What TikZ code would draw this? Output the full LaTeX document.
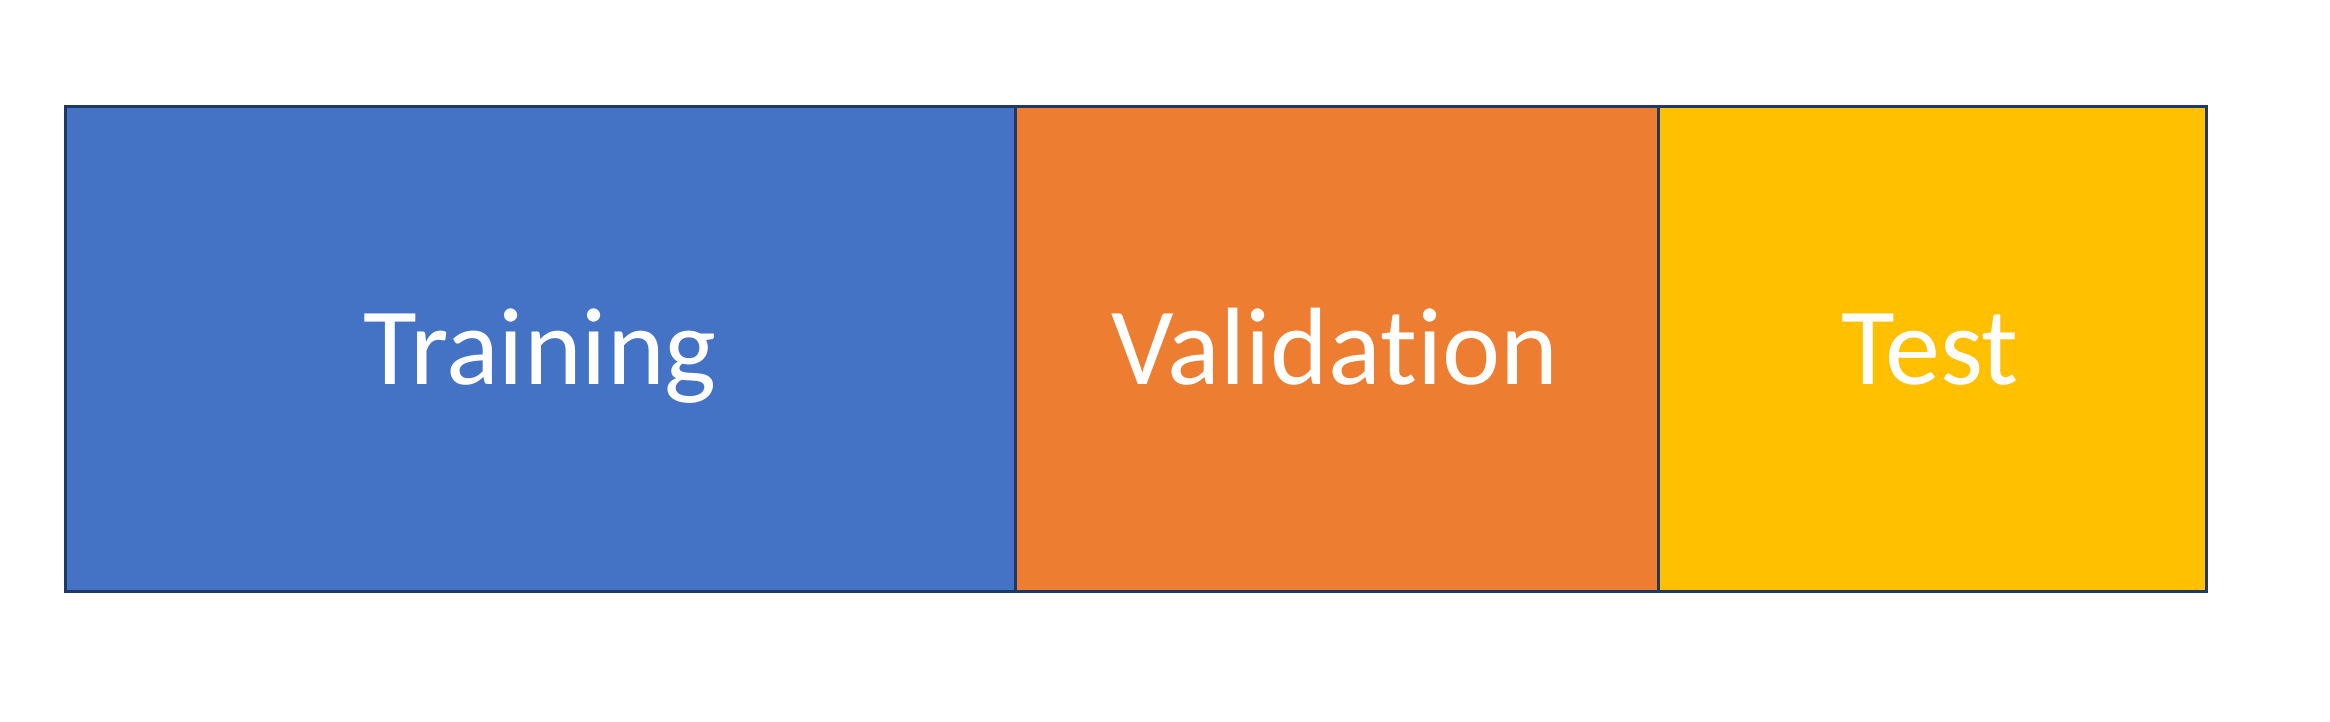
\documentclass[tikz,border=0pt]{standalone}
\usepackage{fontspec}
\setmainfont{Carlito}[Ligatures={NoCommon,NoRare,NoDiscretionary}]
\definecolor{cblue}{HTML}{4472C4}
\definecolor{corange}{HTML}{ED7D31}
\definecolor{cyellow}{HTML}{FFC000}
\definecolor{cborder}{HTML}{1F3864}
\tikzset{
  seg/.style={draw=cborder, line width=3pt, inner sep=0pt, outer sep=0pt, anchor=south west},
  lbl/.style={text=white, anchor=base, inner sep=0pt, font=\fontsize{110}{120}\selectfont}
}
\begin{document}
\begin{tikzpicture}[x=1pt,y=1pt]
\useasboundingbox (0,0) rectangle (2330,722);
\node[seg, fill=cblue, minimum width=950pt, minimum height=485pt] (train) at (65.5,130.5) {};
\node[seg, fill=corange, minimum width=643pt, minimum height=485pt] (valid) at (1015.5,130.5) {};
\node[seg, fill=cyellow, minimum width=548pt, minimum height=485pt] (test) at (1658.5,130.5) {};
\node[lbl] (ttrain) at (540,337) {Training};
\node[lbl] (tvalid) at (1335,337) {Validation};
\node[lbl] (ttest) at (1930,337) {Test};
\end{tikzpicture}
\end{document}
